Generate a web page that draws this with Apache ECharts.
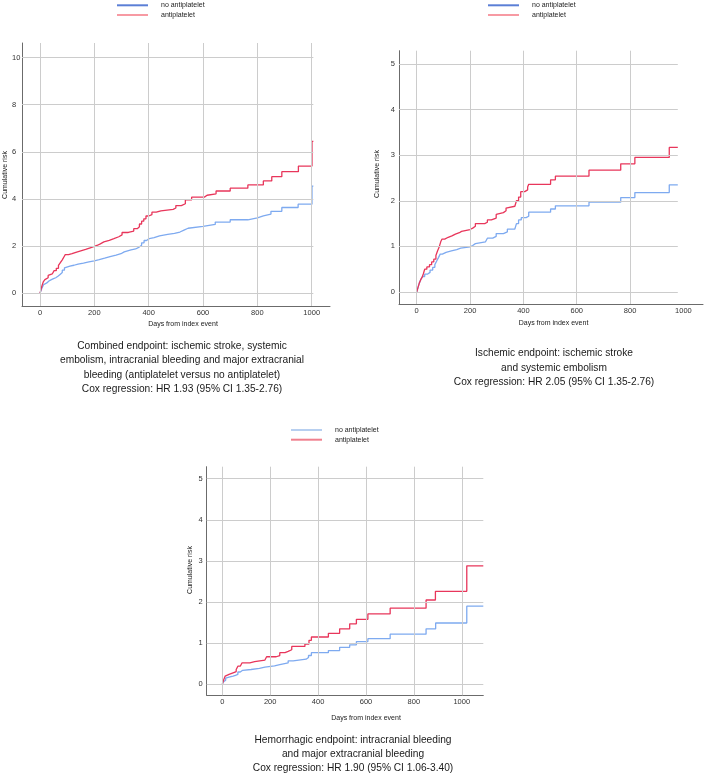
<!DOCTYPE html>
<html><head><meta charset="utf-8">
<script src="https://cdn.jsdelivr.net/npm/echarts@6/dist/echarts.min.js"></script>
<style>html,body{margin:0;padding:0;background:#fff}#c{width:707px;height:781px}</style>
</head><body><div id="c"></div><script>
// ---------- DATA ----------
const seriesNames = ['no antiplatelet', 'antiplatelet'];

// Chart 1: combined endpoint  [day, cumulative risk]
const combinedNoAP = [[0,0],[4,0.12],[8,0.24],[13,0.36],[18,0.44],[25,0.52],[33,0.58],[42,0.62],[50,0.66],[58,0.72],[66,0.8],[74,0.88],[82,0.98],[90,1.08],[97,1.15],[110,1.19],[125,1.24],[140,1.28],[160,1.33],[180,1.38],[200,1.43],[218,1.49],[238,1.56],[258,1.62],[280,1.68],[298,1.76],[310,1.84],[335,1.88],[352,1.96],[365,2.04],[374,2.14],[383,2.24],[392,2.32],[402,2.36],[420,2.44],[440,2.5],[470,2.54],[495,2.6],[515,2.68],[530,2.76],[545,2.84],[600,2.92],[645,3.02],[700,3.12],[765,3.2],[800,3.28],[822,3.36],[850,3.48],[890,3.64],[950,3.78],[1001,4.55],[1006,4.55]];
const combinedAP = [[0,0],[4,0.18],[8,0.34],[12,0.48],[18,0.58],[24,0.66],[30,0.76],[37,0.82],[45,0.88],[52,0.96],[60,1.06],[68,1.18],[75,1.3],[82,1.42],[88,1.54],[93,1.64],[105,1.68],[118,1.74],[132,1.8],[150,1.86],[168,1.93],[185,1.99],[200,2.04],[212,2.1],[222,2.18],[235,2.25],[255,2.32],[272,2.4],[290,2.48],[302,2.58],[325,2.64],[345,2.74],[358,2.82],[366,2.94],[374,3.06],[382,3.16],[390,3.28],[400,3.34],[412,3.44],[428,3.5],[445,3.56],[490,3.62],[500,3.72],[520,3.8],[535,3.96],[558,4.08],[605,4.16],[615,4.22],[648,4.34],[700,4.46],[765,4.6],[822,4.77],[853,4.95],[890,5.16],[951,5.4],[1001,6.45],[1006,6.45]];

// Chart 2: ischemic endpoint
const ischemicNoAP = [[0,0],[5,0.1],[10,0.2],[16,0.28],[22,0.34],[30,0.39],[40,0.43],[50,0.48],[60,0.54],[68,0.6],[75,0.68],[82,0.76],[88,0.83],[96,0.87],[110,0.9],[130,0.93],[150,0.96],[165,0.99],[200,1.02],[210,1.06],[220,1.1],[258,1.14],[265,1.18],[285,1.22],[298,1.28],[325,1.32],[340,1.38],[368,1.42],[374,1.5],[382,1.58],[392,1.63],[410,1.66],[420,1.75],[502,1.82],[520,1.89],[646,1.97],[765,2.07],[818,2.18],[947,2.35],[979,2.35]];
const ischemicAP = [[0,0],[5,0.1],[10,0.2],[15,0.27],[20,0.32],[25,0.4],[30,0.5],[38,0.55],[48,0.6],[56,0.66],[64,0.72],[72,0.8],[78,0.9],[85,1.0],[90,1.1],[95,1.16],[105,1.2],[118,1.23],[132,1.27],[145,1.3],[160,1.33],[168,1.37],[200,1.4],[210,1.44],[220,1.5],[255,1.53],[265,1.58],[280,1.62],[298,1.7],[305,1.74],[325,1.78],[335,1.84],[340,1.88],[368,1.92],[374,2.0],[382,2.08],[390,2.2],[405,2.24],[416,2.3],[420,2.36],[502,2.46],[520,2.54],[646,2.67],[765,2.81],[818,2.95],[947,3.17],[979,3.17]];

// Chart 3: hemorrhagic endpoint
const hemorrhagicNoAP = [[0,0],[4,0.06],[8,0.1],[14,0.15],[22,0.18],[32,0.2],[45,0.22],[55,0.24],[65,0.3],[75,0.34],[85,0.36],[120,0.39],[155,0.42],[178,0.45],[218,0.48],[240,0.52],[275,0.57],[296,0.61],[350,0.65],[360,0.7],[372,0.77],[443,0.82],[490,0.9],[532,0.96],[560,1.04],[608,1.11],[701,1.22],[851,1.35],[891,1.49],[1021,1.9],[1090,1.9]];
const hemorrhagicAP = [[0,0],[4,0.08],[8,0.14],[12,0.2],[20,0.24],[28,0.28],[45,0.31],[58,0.36],[65,0.44],[75,0.48],[82,0.52],[115,0.55],[135,0.59],[178,0.62],[185,0.67],[225,0.7],[240,0.77],[262,0.8],[275,0.84],[290,0.92],[345,0.98],[362,1.07],[372,1.15],[443,1.24],[490,1.35],[532,1.47],[560,1.58],[608,1.71],[701,1.85],[851,2.05],[890,2.26],[1021,2.88],[1090,2.88]];

// Tick labels
const c1XTicks = [0, 200, 400, 600, 800, 1000];
const c1YTicks = [0, 2, 4, 6, 8, 10];
const c2XTicks = [0, 200, 400, 600, 800, 1000];
const c2XGrid = [0, 200, 400, 600, 800];
const c2YTicks = [0, 1, 2, 3, 4, 5];
const c3XTicks = [0, 200, 400, 600, 800, 1000];
const c3YTicks = [0, 1, 2, 3, 4, 5];

// Texts
const xAxisTitle = 'Days from index event';
const yAxisTitle = 'Cumulative risk';
const caption1 = 'Combined endpoint: ischemic stroke, systemic\nembolism, intracranial bleeding and major extracranial\nbleeding (antiplatelet versus no antiplatelet)\nCox regression: HR 1.93 (95% CI 1.35-2.76)';
const caption2 = 'Ischemic endpoint: ischemic stroke\nand systemic embolism\nCox regression: HR 2.05 (95% CI 1.35-2.76)';
const caption3 = 'Hemorrhagic endpoint: intracranial bleeding\nand major extracranial bleeding\nCox regression: HR 1.90 (95% CI 1.06-3.40)';

// ---------- STYLE / LAYOUT ----------
const FONT = '"Liberation Sans", Arial, sans-serif';
const RED = '#e8365b';
const BLUE = '#7eaaf0';
const GRID_C = '#cccccc';
const AXIS_C = '#6b6b6b';

const panels = [
  { grid: {left: 22, top: 43, width: 308, height: 263}, xr: [-66.2, 1067.3], yr: [-0.539, 10.62],
    xTicks: c1XTicks, xGrid: c1XTicks, yTicks: c1YTicks, hEnd: 1006, yLabelAlign: 'left', yLabelMargin: 10,
    data: [combinedNoAP, combinedAP] },
  { grid: {left: 399, top: 50.7, width: 304, height: 253.3}, xr: [-66.4, 1073.5], yr: [-0.263, 5.29],
    xTicks: c2XTicks, xGrid: c2XGrid, yTicks: c2YTicks, hEnd: 979, yLabelAlign: 'right', yLabelMargin: 4,
    data: [ischemicNoAP, ischemicAP] },
  { grid: {left: 206.7, top: 466.7, width: 276.6, height: 228.6}, xr: [-65.2, 1090], yr: [-0.267, 5.29],
    xTicks: c3XTicks, xGrid: c3XTicks, yTicks: c3YTicks, hEnd: 1090, yLabelAlign: 'right', yLabelMargin: 4,
    data: [hemorrhagicNoAP, hemorrhagicAP] }
];

const plain = v => String(v);
const grids = [], xAxes = [], yAxes = [], series = [];
panels.forEach((p, i) => {
  grids.push(Object.assign({containLabel: false}, p.grid));
  xAxes.push({
    type: 'value', gridIndex: i, min: p.xr[0], max: p.xr[1],
    axisLine: {show: true, onZero: false, lineStyle: {color: AXIS_C, width: 1}},
    axisTick: {show: false}, splitLine: {show: false},
    axisLabel: {customValues: p.xTicks, formatter: plain, margin: 3, fontSize: 7.5, color: '#333', fontFamily: FONT}
  });
  yAxes.push({
    type: 'value', gridIndex: i, min: p.yr[0], max: p.yr[1],
    axisLine: {show: true, onZero: false, lineStyle: {color: AXIS_C, width: 1}},
    axisTick: {show: false}, splitLine: {show: false},
    axisLabel: {customValues: p.yTicks, formatter: plain, margin: p.yLabelMargin, align: p.yLabelAlign, fontSize: 7.5, color: '#333', fontFamily: FONT}
  });
  const mlData = [];
  p.xGrid.forEach(v => mlData.push({xAxis: v}));
  p.yTicks.forEach(v => mlData.push([{coord: [p.xr[0], v]}, {coord: [p.hEnd, v]}]));
  series.push({
    type: 'line', name: 'grid' + i, data: [], xAxisIndex: i, yAxisIndex: i, silent: true, z: 1,
    markLine: {silent: true, symbol: ['none', 'none'], label: {show: false}, animation: false,
      lineStyle: {color: GRID_C, width: 1, type: 'solid'}, emphasis: {disabled: true}, data: mlData}
  });
  [BLUE, RED].forEach((c, k) => {
    series.push({
      type: 'line', name: seriesNames[k], data: p.data[k], xAxisIndex: i, yAxisIndex: i,
      step: 'end', symbol: 'none', showSymbol: false, z: 3 + k,
      lineStyle: {color: c, width: 1.3}, itemStyle: {color: c}, emphasis: {disabled: true}
    });
  });
});

function legend(left, top, blueC, redC) {
  return {
    orient: 'vertical', left: left, top: top, itemGap: 1.7, itemWidth: 31, itemHeight: 2, icon: 'rect',
    selectedMode: false, padding: 0,
    textStyle: {fontSize: 7, lineHeight: 8, color: '#222', fontFamily: FONT, padding: [0, 0, 0, 8]},
    data: [{name: seriesNames[0], itemStyle: {color: blueC}}, {name: seriesNames[1], itemStyle: {color: redC}}]
  };
}

function txt(x, y, text, size, lh, rot) {
  return {type: 'text', x: x, y: y, rotation: rot || 0, silent: true,
    style: {text: text, fontSize: size, lineHeight: lh, fontFamily: FONT, fill: '#1a1a1a', align: 'center', verticalAlign: rot ? 'middle' : 'top'}};
}

const graphics = [
  txt(183, 320.5, xAxisTitle, 7, 8),
  txt(553.5, 319, xAxisTitle, 7, 8),
  txt(366, 714, xAxisTitle, 7, 8),
  txt(5, 175, yAxisTitle, 7, 8, Math.PI / 2),
  txt(377, 174, yAxisTitle, 7, 8, Math.PI / 2),
  txt(190, 570, yAxisTitle, 7, 8, Math.PI / 2),
  txt(182, 339, caption1, 10.2, 14.3),
  txt(554, 346, caption2, 10.2, 14.5),
  txt(353, 732.5, caption3, 10.2, 14.4)
];

const chart = echarts.init(document.getElementById('c'), null, {renderer: 'canvas'});
chart.setOption({
  animation: false,
  backgroundColor: '#ffffff',
  grid: grids, xAxis: xAxes, yAxis: yAxes, series: series,
  legend: [legend(117, 1.3, '#5b7fd6', '#f79aa3'), legend(488, 1.3, '#5b7fd6', '#f79aa3'), legend(291, 426, '#b7cff0', '#f0808e')],
  graphic: graphics
});
</script></body></html>
